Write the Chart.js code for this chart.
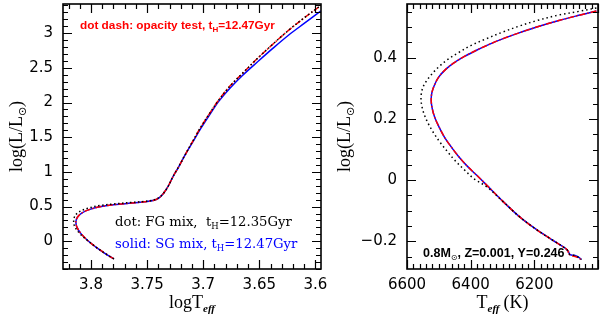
<!DOCTYPE html>
<html><head><meta charset="utf-8">
<script src="https://cdn.jsdelivr.net/npm/chart.js@4"></script>
<style>
html,body{margin:0;padding:0;background:#fff;}
#wrap{position:relative;width:600px;height:319px;overflow:hidden;}
.box{position:absolute;top:0;height:319px;}
</style></head><body>
<div id="wrap">
<div class="box" style="left:0;width:330px"><canvas id="c1"></canvas></div>
<div class="box" style="left:330px;width:270px"><canvas id="c2"></canvas></div>
</div>
<script>
// ---------- Left panel: logTeff vs log(L/Lsun) ----------
const leftSG_T = [3.7796,3.788,3.796,3.803,3.809,3.8125,3.8135,3.812,3.808,3.801,3.791,3.778,3.764,3.752,3.744,3.739,3.735,3.731,3.727,3.722,3.716,3.709,3.702,3.694,3.686,3.676,3.665,3.652,3.638,3.624,3.610,3.595];
const leftSG_L = [-0.255,-0.17,-0.08,0.01,0.11,0.20,0.28,0.35,0.41,0.46,0.50,0.53,0.55,0.57,0.59,0.63,0.70,0.80,0.93,1.07,1.25,1.44,1.63,1.83,2.02,2.21,2.39,2.58,2.78,2.97,3.14,3.32];
const leftOpac_T = [3.7796,3.788,3.796,3.803,3.809,3.8125,3.8135,3.812,3.808,3.801,3.791,3.778,3.764,3.752,3.744,3.739,3.735,3.731,3.727,3.722,3.716,3.709,3.702,3.694,3.686,3.676,3.665,3.652,3.638,3.624,3.610,3.595];
const leftOpac_L = [-0.255,-0.17,-0.08,0.01,0.11,0.20,0.28,0.35,0.41,0.46,0.50,0.53,0.55,0.57,0.59,0.63,0.70,0.80,0.93,1.07,1.25,1.45,1.65,1.85,2.04,2.24,2.42,2.63,2.84,3.04,3.22,3.40];
const leftFG_T = [3.7796,3.788,3.796,3.803,3.810,3.8145,3.8155,3.8145,3.811,3.803,3.792,3.778,3.764,3.752,3.744,3.739,3.735,3.731,3.727,3.722,3.716,3.709,3.702,3.694,3.686,3.676,3.665,3.652,3.638,3.624,3.610,3.595];
const leftFG_L = [-0.255,-0.17,-0.08,0.01,0.11,0.21,0.29,0.36,0.42,0.475,0.515,0.54,0.56,0.575,0.595,0.635,0.70,0.80,0.93,1.07,1.25,1.45,1.65,1.85,2.04,2.24,2.42,2.63,2.84,3.04,3.22,3.40];
const leftXTicks = [3.8,3.75,3.7,3.65,3.6];
const leftYTicks = [0,0.5,1,1.5,2,2.5,3];

// ---------- Right panel: Teff (K) vs log(L/Lsun) ----------
const rightSG_T = [6005,6060,6123,6195,6250,6298,6340,6380,6421,6455,6480,6500,6514,6522,6524,6521,6513,6500,6482,6462,6440,6410,6380,6349,6298,6246,6195,6144,6103,6093,6088,6072,6058,6052];
const rightSG_L = [0.552,0.538,0.521,0.499,0.480,0.462,0.444,0.425,0.403,0.381,0.360,0.337,0.310,0.285,0.260,0.235,0.205,0.175,0.140,0.110,0.080,0.045,0.015,-0.017,-0.070,-0.120,-0.160,-0.195,-0.222,-0.233,-0.243,-0.246,-0.254,-0.259];
const rightOpac_T = [6005,6060,6123,6195,6250,6298,6340,6380,6421,6455,6480,6500,6514,6522,6524,6521,6513,6500,6482,6462,6440,6410,6380,6349,6298,6246,6195,6144,6103,6093,6095,6085,6065,6052];
const rightOpac_L = [0.552,0.538,0.521,0.499,0.480,0.462,0.444,0.425,0.403,0.381,0.360,0.337,0.310,0.285,0.260,0.235,0.205,0.175,0.140,0.110,0.080,0.045,0.015,-0.017,-0.070,-0.120,-0.160,-0.195,-0.222,-0.233,-0.238,-0.245,-0.252,-0.260];
const rightFG_T = [6005,6060,6123,6195,6250,6298,6350,6400,6440,6472,6500,6523,6540,6550,6555,6556,6553,6545,6532,6515,6495,6472,6451,6421,6390,6349,6298,6246,6195,6144,6103,6093,6088,6072,6058,6052];
const rightFG_L = [0.562,0.551,0.539,0.520,0.502,0.484,0.462,0.439,0.415,0.394,0.370,0.345,0.322,0.303,0.282,0.265,0.240,0.212,0.182,0.152,0.122,0.092,0.066,0.035,0.005,-0.022,-0.070,-0.120,-0.160,-0.195,-0.222,-0.233,-0.243,-0.246,-0.254,-0.259];
const rightXTicks = [6600,6400,6200];
const rightYTicks = [-0.2,0,0.2,0.4];

const pts = (xs, ys) => xs.map((x, i) => ({x, y: ys[i]}));

function richWidth(ctx, parts){
  let w = 0;
  for (const p of parts){ ctx.font = p.f; w += ctx.measureText(p.t).width + (p.sp||0); }
  return w;
}
function drawRich(ctx, parts, x, y, align, color){
  const w = richWidth(ctx, parts);
  let cx = align === 'center' ? x - w/2 : (align === 'right' ? x - w : x);
  ctx.fillStyle = color; ctx.textBaseline = 'alphabetic'; ctx.textAlign = 'left';
  for (const p of parts){ ctx.font = p.f; ctx.fillText(p.t, cx, y + (p.dy||0)); cx += ctx.measureText(p.t).width + (p.sp||0); }
}

function framePlugin(cfg){
  return {
    id: 'frame',
    afterDatasetsDraw(chart){
      const ctx = chart.ctx, a = chart.chartArea;
      const xs = chart.scales.x, ys = chart.scales.y;
      ctx.save();
      ctx.strokeStyle = '#000';
      ctx.lineWidth = 1.2;
      const loop = (min, max, step, major, fn) => {
        const k0 = Math.ceil(min/step - 1e-6), k1 = Math.floor(max/step + 1e-6);
        for (let k = k0; k <= k1; k++){
          const v = k*step;
          const r = v/major;
          fn(v, Math.abs(r - Math.round(r)) < 1e-6);
        }
      };
      ctx.beginPath();
      loop(xs.min, xs.max, cfg.xMinor, cfg.xMajor, (v, M) => {
        const p = Math.round(xs.getPixelForValue(v)) + 0.5, L = M ? 9 : 5;
        ctx.moveTo(p, a.bottom); ctx.lineTo(p, a.bottom - L);
        ctx.moveTo(p, a.top); ctx.lineTo(p, a.top + L);
      });
      loop(ys.min, ys.max, cfg.yMinor, cfg.yMajor, (v, M) => {
        const p = Math.round(ys.getPixelForValue(v)) + 0.5, L = M ? 9 : 5;
        ctx.moveTo(a.left, p); ctx.lineTo(a.left + L, p);
        ctx.moveTo(a.right, p); ctx.lineTo(a.right - L, p);
      });
      ctx.stroke();
      ctx.lineWidth = 1.6;
      ctx.strokeRect(a.left, a.top, a.right - a.left, a.bottom - a.top);
      const big = '18px "Liberation Serif"', sub = 'italic bold 11px "Liberation Serif"', subS = '11px "DejaVu Sans"';
      ctx.save();
      ctx.translate(cfg.yTitleX, (a.top + a.bottom)/2);
      ctx.rotate(-Math.PI/2);
      drawRich(ctx, [{t:'log(L/L', f:big},{t:'\u2299', f:subS, dy:4},{t:')', f:big}], 0, 6, 'center', '#000');
      ctx.restore();
      drawRich(ctx, cfg.xTitle(big, sub), (a.left + a.right)/2, 308, 'center', '#000');
      for (const n of cfg.notes) drawRich(ctx, n.parts, n.x, n.y, 'left', n.color);
      ctx.restore();
    }
  };
}

const tickFont = {family: 'DejaVu Sans', size: 15};
function axis(min, max, reverse, ticksArr, fmt, fitFn, pad){
  return {
    type: 'linear', min, max, reverse,
    grid: {display: false, drawTicks: false, tickLength: 0}, border: {display: false},
    afterBuildTicks: s => { s.ticks = ticksArr.map(v => ({value: v})); },
    afterFit: s => { fitFn(s); s.paddingTop = 0; s.paddingBottom = 0; s.paddingLeft = 0; s.paddingRight = 0; },
    ticks: {color: '#000', font: tickFont, padding: pad, autoSkip: false, maxRotation: 0, callback: fmt}
  };
}
const fmtNum = v => (v < 0 ? '\u2212' + String(Math.abs(v)) : String(v));

const ds = (data, color, dash, width) => ({
  data, borderColor: color, borderWidth: width, borderDash: dash, pointRadius: 0,
  showLine: true, fill: false, tension: 0.35
});

const sm = 'bold 11.8px "Liberation Sans"', smSub = 'bold 8px "Liberation Sans"';
const smR = 'bold 12.5px "Liberation Sans"';
const md = '13.2px "DejaVu Serif"', mdSub = '8.5px "DejaVu Serif"';

// dataset index 0 is drawn on top
new Chart(document.getElementById('c1'), {
  type: 'scatter',
  data: {datasets: [
    ds(pts(leftFG_T, leftFG_L), '#000000', [1.5,2.5], 1.5),
    ds(pts(leftOpac_T, leftOpac_L), '#ff0000', [6,2,1.5,2], 1.5),
    ds(pts(leftSG_T, leftSG_L), '#0000ff', [], 1.5)
  ]},
  options: {
    responsive: true, maintainAspectRatio: false, animation: false,
    layout: {padding: {top: 4, right: 9, left: 0, bottom: 0}},
    plugins: {legend: {display: false}, tooltip: {enabled: false}},
    scales: {
      x: axis(3.595, 3.825, true, leftXTicks, v => String(v), s => { s.height = 50; }, 7),
      y: axis(-0.4, 3.42, false, leftYTicks, fmtNum, s => { s.width = 63; }, 10)
    }
  },
  plugins: [framePlugin({
    xMinor: 0.01, xMajor: 0.05, yMinor: 0.1, yMajor: 0.5, yTitleX: 16,
    xTitle: (big, sub) => [{t:'logT', f:big},{t:'eff', f:sub, dy:4}],
    notes: [
      {x: 80, y: 29, color: '#ff0000', parts: [{t:'dot dash: opacity test, t', f:sm},{t:'H', f:smSub, dy:3},{t:'=12.47Gyr', f:sm}]},
      {x: 115, y: 226, color: '#000000', parts: [{t:'dot: FG mix,  t', f:md},{t:'H', f:mdSub, dy:3},{t:'=12.35Gyr', f:md}]},
      {x: 115, y: 248, color: '#0000ff', parts: [{t:'solid: SG mix, t', f:md},{t:'H', f:mdSub, dy:3},{t:'=12.47Gyr', f:md}]}
    ]
  })]
});

new Chart(document.getElementById('c2'), {
  type: 'scatter',
  data: {datasets: [
    ds(pts(rightFG_T, rightFG_L), '#000000', [1.5,3], 1.5),
    ds(pts(rightOpac_T, rightOpac_L), '#ff0000', [6,2,1.5,2], 1.5),
    ds(pts(rightSG_T, rightSG_L), '#0000ff', [], 1.5)
  ]},
  options: {
    responsive: true, maintainAspectRatio: false, animation: false,
    layout: {padding: {top: 4, right: 2, left: 0, bottom: 0}},
    plugins: {legend: {display: false}, tooltip: {enabled: false}},
    scales: {
      x: axis(6000, 6600, true, rightXTicks, v => String(v), s => { s.height = 50; }, 7),
      y: axis(-0.29, 0.575, false, rightYTicks, fmtNum, s => { s.width = 77; }, 10)
    }
  },
  plugins: [framePlugin({
    xMinor: 20, xMajor: 200, yMinor: 0.05, yMajor: 0.2, yTitleX: 14,
    xTitle: (big, sub) => [{t:'T', f:big},{t:'eff', f:sub, dy:4, sp:4},{t:'(K)', f:big}],
    notes: [
      {x: 93, y: 257, color: '#000000', parts: [{t:'0.8M', f:smR},{t:'\u2299', f:'8px "DejaVu Sans"', dy:3},{t:', Z=0.001, Y=0.246', f:smR}]}
    ]
  })]
});
</script>
</body></html>
